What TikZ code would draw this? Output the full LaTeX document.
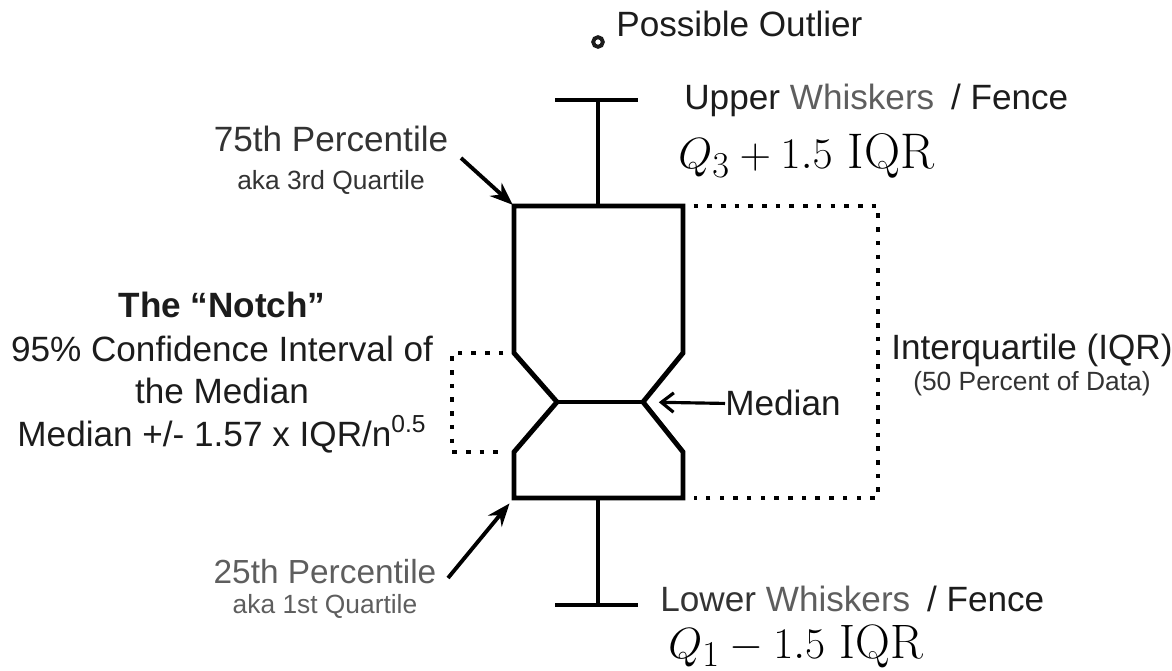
\documentclass[tikz,border=0pt]{standalone}
\usepackage{fontspec}
\newfontfamily\arialfont{Liberation Sans}
\usetikzlibrary{positioning,arrows.meta}
\definecolor{darkink}{HTML}{1C1C1C}
\definecolor{midink}{HTML}{333333}
\definecolor{grayink}{HTML}{5E5E5E}

\begin{document}
\begin{tikzpicture}[x=0.02cm,y=-0.02cm,>={Stealth[length=13pt,width=10pt]},
  box/.style={line width=2.8pt,line join=miter},
  whisk/.style={line width=2.4pt},
  dots/.style={line width=2.6pt,dash pattern=on 2.6pt off 5.2pt,shorten <=6pt,shorten >=6pt},
  ptr/.style={->,line width=2.2pt},
  lbl/.style={font=\arialfont\fontsize{20}{24}\selectfont,text=darkink,inner sep=0pt},
  small/.style={font=\arialfont\fontsize{15}{18}\selectfont,text=midink,inner sep=0pt},
  formula/.style={font=\fontsize{28.5}{34}\selectfont,inner sep=0pt}]

\useasboundingbox (0,0) rectangle (1172,671);

% box outline
\coordinate (tl) at (514,206); \coordinate (tr) at (683,206);
\coordinate (nl) at (514,353); \coordinate (nr) at (683,353);
\coordinate (ml) at (557,402); \coordinate (mr) at (643,402);
\coordinate (sl) at (514,452); \coordinate (sr) at (683,452);
\coordinate (bl) at (514,498); \coordinate (br) at (683,498);
\coordinate (top) at (598,206); \coordinate (bot) at (598,498);
\coordinate (uw) at (598,100); \coordinate (lw) at (598,605);
\coordinate (iqr) at (878,206); \coordinate (iqrb) at (878,498);
\coordinate (nq) at (452,353); \coordinate (nqb) at (452,452);

\draw[box] (bl) -- (sl) -- (ml) -- (nl) -- (tl) -- (tr) -- (nr) -- (mr) -- (sr) -- (br) -- cycle;
\draw[box] (ml) -- (mr);
\draw[whisk] (top) -- (uw) (555,100) -- (638,100);
\draw[whisk] (bot) -- (lw) (555,605) -- (638,605);
\draw[dots] (tr) -- (iqr) -- (iqrb) -- (br);
\draw[dots] (nl) -- (nq) -- (nqb) -- (sl);

% outlier
\node[circle,draw=darkink,line width=2.2pt,inner sep=0pt,minimum size=5.5pt] (out) at (598,42) {};
\node[lbl,anchor=base west] (outlbl) at (616,37) {Possible Outlier};

% whisker labels
\node[lbl,anchor=base west] (upper) at (684,110) {Upper {\color{grayink}Whiskers}\hspace{0.2em} / Fence};
\node[formula,anchor=base west] (q3) at (678,169) {$Q_3 + 1.5\ \mathrm{IQR}$};
\node[lbl,anchor=base west] (lower) at (660,611) {{\color{midink}Lower} {\color{grayink}Whiskers}\hspace{0.2em} / Fence};
\node[formula,font=\fontsize{27.5}{32}\selectfont,anchor=base west] (q1) at (668,658) {$Q_1 - 1.5\ \mathrm{IQR}$};

% quartiles
\node[lbl,text=midink,anchor=base] (p75) at (331,152) {75th Percentile};
\node[small,below=10pt of p75] (q3lbl) {aka 3rd Quartile};
\node[lbl,font=\arialfont\fontsize{19}{23}\selectfont,text=grayink,anchor=base] (p25) at (325,583) {25th Percentile};
\node[small,text=grayink,below=6pt of p25] (q1lbl) {aka 1st Quartile};
\coordinate (a75) at (461,158);
\coordinate (a25) at (448,578);
\draw[ptr,shorten >=1pt] (a75) -- (tl);
\draw[ptr,shorten >=4pt] (a25) -- (bl);

% notch
\node[lbl,align=center,anchor=north] (notch) at (222,292)
  {\textbf{The “Notch”}\\[1pt]95\% Confidence Interval of\\the Median\\Median +/- 1.57 x IQR/n\textsuperscript{0.5}};

% median and IQR
\node[lbl,anchor=base west] (medlbl) at (725,416) {Median};
\draw[{Straight Barb[length=7pt,width=11pt]}-,line width=1.8pt,shorten <=9pt] (mr) -- (medlbl.west);
\node[lbl,anchor=base west] (iqrlbl) at (891,360) {Interquartile (IQR)};
\node[small,below=2pt of iqrlbl] (iqrsub) {(50 Percent of Data)};

\end{tikzpicture}
\end{document}
